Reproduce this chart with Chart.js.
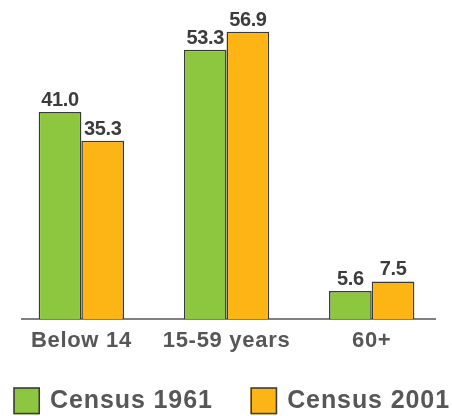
<!DOCTYPE html>
<html><head><meta charset="utf-8">
<script src="https://cdn.jsdelivr.net/npm/chart.js@4"></script>
<style>html,body{margin:0;padding:0;background:#fff}#wrap{width:452px;height:416px}</style>
</head><body><div id="wrap"><canvas id="c" width="452" height="416"></canvas></div>
<script>
const categories = ['Below 14', '15-59 years', '60+'];
const census1961 = [41.0, 53.3, 5.6];
const census2001 = [35.3, 56.9, 7.5];
const seriesNames = ['Census 1961', 'Census 2001'];
const yMax = 60;

const FONT = "'Liberation Sans', Arial, sans-serif";
const GREEN = '#8DC63F', ORANGE = '#FDB515', EDGE = '#3A3A3A';

const toPoints = vals => vals.map((v, i) => ({ x: i, y: v }));

const spacing = {
  id: 'spacing',
  beforeDraw(chart) { chart.ctx.letterSpacing = '0.7px'; }
};

const valueLabels = {
  id: 'valueLabels',
  afterDatasetsDraw(chart) {
    const ctx = chart.ctx;
    ctx.save();
    ctx.font = `bold 20px ${FONT}`;
    ctx.fillStyle = '#3C3C3C';
    ctx.textAlign = 'center';
    ctx.textBaseline = 'alphabetic';
    ctx.letterSpacing = '-0.4px';
    chart.data.datasets.forEach((ds, di) => {
      chart.getDatasetMeta(di).data.forEach((bar, i) => {
        ctx.fillText(ds.data[i].y.toFixed(1), bar.x, bar.y - 6);
      });
    });
    ctx.restore();
  }
};

const boxLegend = {
  id: 'boxLegend',
  afterDraw(chart) {
    const ctx = chart.ctx;
    ctx.save();
    ctx.font = `bold 25px ${FONT}`;
    ctx.letterSpacing = '0.9px';
    ctx.textBaseline = 'middle';
    ctx.textAlign = 'left';
    const bw = 26.7, bh = 27, cy = 400.8;
    let x = 13.3;
    chart.data.datasets.forEach(ds => {
      ctx.fillStyle = ds.backgroundColor;
      ctx.fillRect(x, cy - bh / 2, bw, bh);
      ctx.strokeStyle = ds.borderColor;
      ctx.lineWidth = 1.5;
      ctx.strokeRect(x + 0.75, cy - bh / 2 + 0.75, bw - 1.5, bh - 1.5);
      ctx.fillStyle = '#575757';
      const tx = x + bw + 10;
      ctx.fillText(ds.label, tx, cy + 0.5);
      x = tx + ctx.measureText(ds.label).width + 37.7;
    });
    ctx.restore();
  }
};

new Chart(document.getElementById('c'), {
  type: 'bar',
  data: {
    datasets: [
      { label: seriesNames[0], data: toPoints(census1961), backgroundColor: GREEN, borderColor: EDGE },
      { label: seriesNames[1], data: toPoints(census2001), backgroundColor: ORANGE, borderColor: EDGE }
    ]
  },
  options: {
    responsive: false,
    animation: false,
    devicePixelRatio: 1,
    layout: { padding: { left: 22, right: 17, top: 16, bottom: 54.3 } },
    datasets: {
      bar: { categoryPercentage: 0.588, barPercentage: 1, borderWidth: 1.5, borderSkipped: 'start' }
    },
    plugins: { legend: { display: false }, tooltip: { enabled: false } },
    scales: {
      x: {
        type: 'linear', min: -0.409, max: 2.436, offset: false,
        afterBuildTicks: s => { s.ticks = categories.map((c, i) => ({ value: i })); },
        ticks: {
          callback: v => categories[v] ?? '',
          autoSkip: false, maxRotation: 0, padding: 8,
          color: '#575757', font: { family: FONT, size: 22, weight: 'bold' }
        },
        grid: { display: false, drawTicks: false },
        border: { display: true, color: '#808080', width: 2 }
      },
      y: { display: false, min: 0, max: yMax }
    }
  },
  plugins: [spacing, valueLabels, boxLegend]
});
</script>
</body></html>
